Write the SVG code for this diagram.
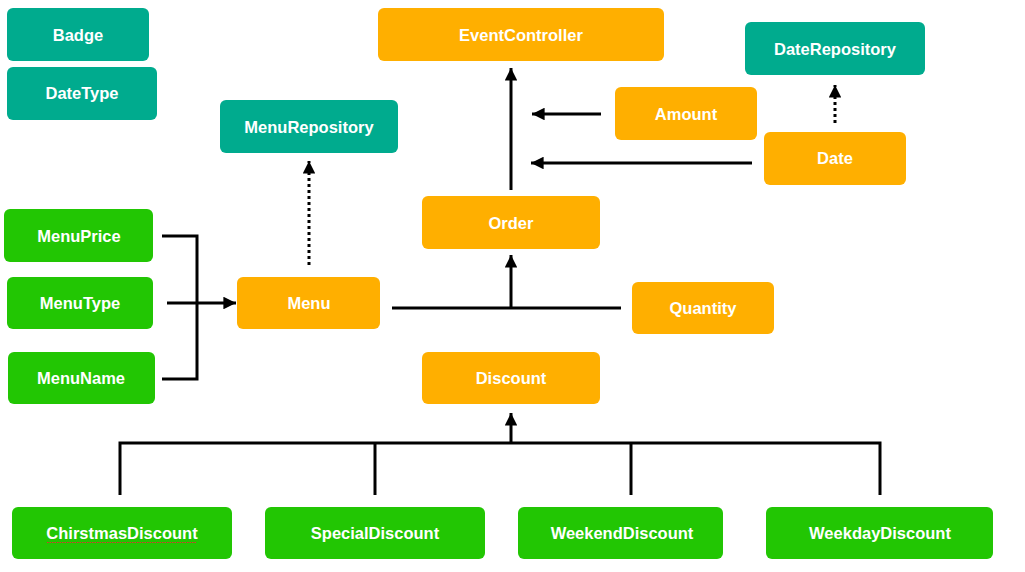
<svg xmlns="http://www.w3.org/2000/svg" width="1025" height="572" viewBox="0 0 1025 572">
<style>
.n rect{rx:6;ry:6}
.teal rect{fill:#00AB8E}
.orange rect{fill:#FFAF00}
.green rect{fill:#22C603}
.n text{font-family:"Liberation Sans",Arial,Helvetica,sans-serif;font-weight:bold;font-size:16.5px;fill:#fff;text-anchor:middle;dominant-baseline:central}
.c{stroke:#000;stroke-width:3;fill:none}
.d{stroke-dasharray:3 3}
</style>
<defs>
<marker id="ah" viewBox="0 0 10 10" refX="10" refY="5" markerWidth="4.2" markerHeight="4.2" orient="auto" markerUnits="strokeWidth">
<path d="M0,0 L10,5 L0,10 Z" fill="#000"/>
</marker>
</defs>
<rect width="1025" height="572" fill="#fff"/>
<g id="connectors">
<path class="c" d="M511,190 V68" marker-end="url(#ah)"/>
<path class="c" d="M601,114 H532" marker-end="url(#ah)"/>
<path class="c" d="M752,163 H531" marker-end="url(#ah)"/>
<path class="c d" d="M835,123 V85" marker-end="url(#ah)"/>
<path class="c d" d="M309,265 V161" marker-end="url(#ah)"/>
<path class="c" d="M162,236 H197 V379 H162"/>
<path class="c" d="M167,303 H236" marker-end="url(#ah)"/>
<path class="c" d="M392,308 H621"/>
<path class="c" d="M511,308 V255" marker-end="url(#ah)"/>
<path class="c" d="M120,495 V443 H880 V495"/>
<path class="c" d="M375,443 V495"/>
<path class="c" d="M631,443 V495"/>
<path class="c" d="M511,443 V413" marker-end="url(#ah)"/>
</g>
<g id="Badge" class="n teal"><rect x="7" y="8" width="142" height="53"/><text x="78" y="35">Badge</text></g>
<g id="DateType" class="n teal"><rect x="7" y="67" width="150" height="53"/><text x="82" y="93">DateType</text></g>
<g id="MenuRepository" class="n teal"><rect x="220" y="100" width="178" height="53"/><text x="309" y="127">MenuRepository</text></g>
<g id="EventController" class="n orange"><rect x="378" y="8" width="286" height="53"/><text x="521" y="35">EventController</text></g>
<g id="DateRepository" class="n teal"><rect x="745" y="22" width="180" height="53"/><text x="835" y="49">DateRepository</text></g>
<g id="Amount" class="n orange"><rect x="615" y="87" width="142" height="53"/><text x="686" y="114">Amount</text></g>
<g id="Date" class="n orange"><rect x="764" y="132" width="142" height="53"/><text x="835" y="158">Date</text></g>
<g id="Order" class="n orange"><rect x="422" y="196" width="178" height="53"/><text x="511" y="223">Order</text></g>
<g id="MenuPrice" class="n green"><rect x="4" y="209" width="149" height="53"/><text x="79" y="236">MenuPrice</text></g>
<g id="MenuType" class="n green"><rect x="7" y="277" width="146" height="52"/><text x="80" y="303">MenuType</text></g>
<g id="Menu" class="n orange"><rect x="237" y="277" width="143" height="52"/><text x="309" y="303">Menu</text></g>
<g id="Quantity" class="n orange"><rect x="632" y="282" width="142" height="52"/><text x="703" y="308">Quantity</text></g>
<g id="MenuName" class="n green"><rect x="8" y="352" width="147" height="52"/><text x="81" y="378">MenuName</text></g>
<g id="Discount" class="n orange"><rect x="422" y="352" width="178" height="52"/><text x="511" y="378">Discount</text></g>
<g id="ChirstmasDiscount" class="n green"><rect x="12" y="507" width="220" height="52"/><text x="122" y="533">ChirstmasDiscount</text><path d="M47,542.5 L197,542.5" stroke="#E03030" stroke-width="1" stroke-dasharray="1.5 1"/></g>
<g id="SpecialDiscount" class="n green"><rect x="265" y="507" width="220" height="52"/><text x="375" y="533">SpecialDiscount</text></g>
<g id="WeekendDiscount" class="n green"><rect x="518" y="507" width="205" height="52"/><text x="622" y="533">WeekendDiscount</text></g>
<g id="WeekdayDiscount" class="n green"><rect x="766" y="507" width="227" height="52"/><text x="880" y="533">WeekdayDiscount</text></g>
</svg>
